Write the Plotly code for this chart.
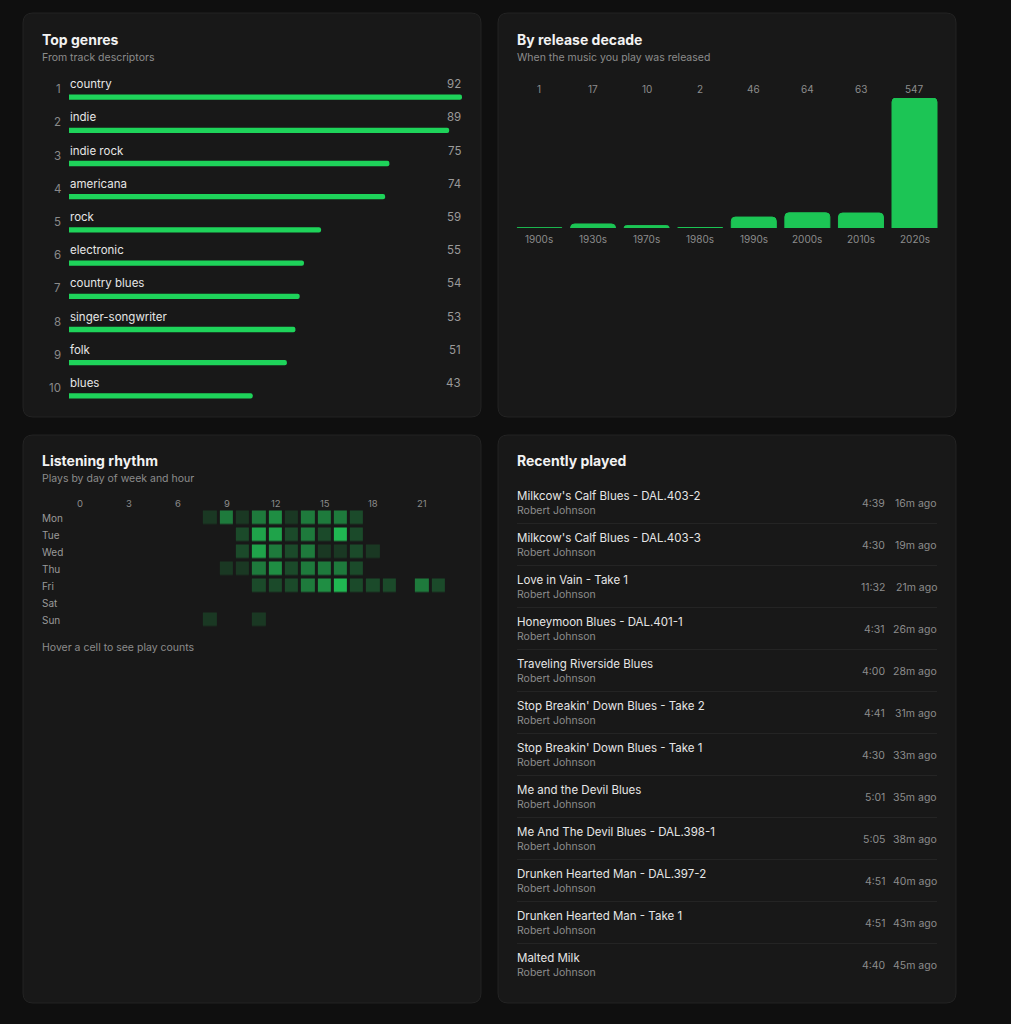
import plotly.graph_objects as go

W, H = 1011, 1024
def px(x): return x / W
def py(y): return 1 - y / H

# ---------------- data ----------------
genres = ["country", "indie", "indie rock", "americana", "rock", "electronic",
          "country blues", "singer-songwriter", "folk", "blues"]
genre_counts = [92, 89, 75, 74, 59, 55, 54, 53, 51, 43]

decades = ["1900s", "1930s", "1970s", "1980s", "1990s", "2000s", "2010s", "2020s"]
decade_counts = [1, 17, 10, 2, 46, 64, 63, 547]

days = ["Mon", "Tue", "Wed", "Thu", "Fri", "Sat", "Sun"]
hours = list(range(24))
hour_ticks = [0, 3, 6, 9, 12, 15, 18, 21]
N = None
#        0  1  2  3  4  5  6  7  8  9 10 11 12 13 14 15 16 17 18 19 20 21 22 23
mon = [N, N, N, N, N, N, N, N, 1, 3, 1, 3, 4, 1, 3, 3, 3, 2, N, N, N, N, N, N]
tue = [N, N, N, N, N, N, N, N, N, N, 2, 5, 5, 2, 3, 2, 6, 2, N, N, N, N, N, N]
wed = [N, N, N, N, N, N, N, N, N, N, 2, 5, 3, 2, 3, 1, 1, 2, 1, N, N, N, N, N]
thu = [N, N, N, N, N, N, N, N, N, 1, 1, 3, 4, 2, 3, 3, 3, 2, N, N, N, N, N, N]
fri = [N, N, N, N, N, N, N, N, N, N, N, 2, 2, 2, 3, 4, 6, 2, 2, 2, N, 3, 2, N]
sat = [N] * 24
sun = [N, N, N, N, N, N, N, N, 1, N, N, 1, N, N, N, N, N, N, N, N, N, N, N, N]
plays = [mon, tue, wed, thu, fri, sat, sun]

titles = ["Milkcow's Calf Blues - DAL.403-2", "Milkcow's Calf Blues - DAL.403-3",
          "Love in Vain - Take 1", "Honeymoon Blues - DAL.401-1",
          "Traveling Riverside Blues", "Stop Breakin' Down Blues - Take 2",
          "Stop Breakin' Down Blues - Take 1", "Me and the Devil Blues",
          "Me And The Devil Blues - DAL.398-1", "Drunken Hearted Man - DAL.397-2",
          "Drunken Hearted Man - Take 1", "Malted Milk"]
artists = ["Robert Johnson"] * 12
durations = ["4:39", "4:30", "11:32", "4:31", "4:00", "4:41", "4:30", "5:01",
             "5:05", "4:51", "4:51", "4:40"]
played_ago = ["16m ago", "19m ago", "21m ago", "26m ago", "28m ago", "31m ago",
              "33m ago", "35m ago", "38m ago", "40m ago", "43m ago", "45m ago"]

# ---------------- style ----------------
FONT = "Inter, 'Noto Sans', sans-serif"
BG = "#0f0f0f"
CARD = "#181818"
CARD_LINE = "#232323"
GREEN = "#1ed35a"
WHITE = "#f2f2f2"
TEXT = "#e6e6e6"
MUTED = "#8c8c8c"

fig = go.Figure()

# Top genres bars
fig.add_trace(go.Bar(
    x=genre_counts, y=list(range(len(genres))), orientation="h",
    width=0.16, marker=dict(color=GREEN, cornerradius=3, line=dict(width=0)),
    xaxis="x", yaxis="y", hovertext=genres,
    hovertemplate="%{hovertext}: %{x}<extra></extra>"))

# Release decade bars
fig.add_trace(go.Bar(
    x=decades, y=decade_counts, width=0.84,
    marker=dict(color="#1cc555", cornerradius=4, line=dict(width=1, color="#1cc555")),
    xaxis="x2", yaxis="y2",
    hovertemplate="%{x}: %{y}<extra></extra>"))

# Listening rhythm heatmap
fig.add_trace(go.Heatmap(
    z=plays, x=hours, y=list(range(len(days))),
    xgap=3, ygap=3.5, zmin=1, zmax=6, showscale=False,
    colorscale=[[0, "#1a3823"], [0.2, "#1b4a2a"], [0.4, "#1e7a3c"],
                [0.6, "#1f8e43"], [0.8, "#1fa34a"], [1, "#20b852"]],
    customdata=[[d] * 24 for d in days],
    xaxis="x3", yaxis="y3",
    hovertemplate="%{customdata} %{x}:00 — %{z} plays<extra></extra>"))

hidden = dict(visible=False, showgrid=False, zeroline=False, fixedrange=True)

# ---------------- cards ----------------
def card(x0, y0, x1, y1, r=10):
    rx, ry = r / W, r / H
    X0, X1 = px(x0), px(x1)
    Y0, Y1 = py(y0), py(y1)  # Y0 top (larger), Y1 bottom
    path = (f"M {X0+rx},{Y0} L {X1-rx},{Y0} Q {X1},{Y0} {X1},{Y0-ry} "
            f"L {X1},{Y1+ry} Q {X1},{Y1} {X1-rx},{Y1} "
            f"L {X0+rx},{Y1} Q {X0},{Y1} {X0},{Y1+ry} "
            f"L {X0},{Y0-ry} Q {X0},{Y0} {X0+rx},{Y0} Z")
    return dict(type="path", path=path, xref="paper", yref="paper",
                fillcolor=CARD, line=dict(color=CARD_LINE, width=1), layer="below")

shapes = [card(23, 13, 481, 417), card(498, 13, 956, 417),
          card(23, 435, 481, 1003), card(498, 435, 956, 1003)]

# separators for recently played
ROW0, PITCH = 496, 42
for i in range(len(titles) - 1):
    yy = py(ROW0 + PITCH * i + 27.5)
    shapes.append(dict(type="line", xref="paper", yref="paper",
                       x0=px(517), x1=px(937), y0=yy, y1=yy,
                       line=dict(color="#242424", width=1)))

# ---------------- annotations ----------------
ann = []
def text(x, y, s, size, color, anchor="left", bold=False, xref="paper", yref="paper",
         yshift=0):
    ann.append(dict(x=x, y=y, xref=xref, yref=yref, text=f"<b>{s}</b>" if bold else s,
                    showarrow=False, xanchor=anchor, yanchor="middle", yshift=yshift,
                    font=dict(family=FONT, size=size, color=color), borderpad=0))

# card headers
text(px(41), py(39), "Top genres", 14, WHITE, bold=True)
text(px(41), py(57), "From track descriptors", 10.5, MUTED)
text(px(516), py(39), "By release decade", 14, WHITE, bold=True)
text(px(516), py(57), "When the music you play was released", 10.5, MUTED)
text(px(41), py(460), "Listening rhythm", 14, WHITE, bold=True)
text(px(41), py(478), "Plays by day of week and hour", 10.5, MUTED)
text(px(516), py(460), "Recently played", 14, WHITE, bold=True)
text(px(41), py(647), "Hover a cell to see play counts", 10.5, MUTED)

# genres rows
gmax = max(genre_counts)
for i, (g, c) in enumerate(zip(genres, genre_counts)):
    text(0, i, g, 11.5, TEXT, xref="x", yref="y", yshift=13)
    text(gmax, i, str(c), 11.5, "#9a9a9a", anchor="right", xref="x", yref="y", yshift=13)
    text(px(61.5), i, str(i + 1), 11.5, "#8a8a8a", anchor="right", yref="y", yshift=8)

# decades labels
dmax = max(decade_counts)
for d, c in zip(decades, decade_counts):
    text(d, dmax, str(c), 10, MUTED, anchor="center", xref="x2", yref="y2", yshift=9)
    text(d, 0, d, 10, MUTED, anchor="center", xref="x2", yref="y2", yshift=-11)

# heatmap labels
for h in hour_ticks:
    text(h, py(503), str(h), 9.5, MUTED, anchor="center", xref="x3")
for j, d in enumerate(days):
    text(px(41), j, d, 10, "#9a9a9a", yref="y3")

# recently played rows
for i, (t, a, du, ag) in enumerate(zip(titles, artists, durations, played_ago)):
    base = ROW0 + PITCH * i
    text(px(516), py(base), t, 11.5, TEXT)
    text(px(516), py(base + 14), a, 10.5, MUTED)
    text(px(886), py(base + 7), du, 10.5, MUTED, anchor="right")
    text(px(938), py(base + 7), ag, 10.5, MUTED, anchor="right")

fig.update_layout(
    width=W, height=H, margin=dict(l=0, r=0, t=0, b=0),
    paper_bgcolor=BG, plot_bgcolor="rgba(0,0,0,0)",
    showlegend=False, font=dict(family=FONT, color=TEXT),
    xaxis=dict(domain=[px(69), px(462)], range=[0, gmax], anchor="y", **hidden),
    yaxis=dict(domain=[py(412.5), py(80.5)], range=[9.5, -0.5], anchor="x", **hidden),
    xaxis2=dict(domain=[px(512.7), px(941.3)], range=[-0.5, 7.5], anchor="y2",
                type="category", **hidden),
    yaxis2=dict(domain=[py(228), py(98)], range=[0, dmax], anchor="x2", **hidden),
    xaxis3=dict(domain=[px(71.85), px(463.15)], range=[-0.5, 23.5], anchor="y3", **hidden),
    yaxis3=dict(domain=[py(628.5), py(509.5)], range=[6.5, -0.5], anchor="x3", **hidden),
    shapes=shapes, annotations=ann,
    hoverlabel=dict(bgcolor="#282828", font=dict(family=FONT, color="#fff")),
)

fig.write_html("out.html")
